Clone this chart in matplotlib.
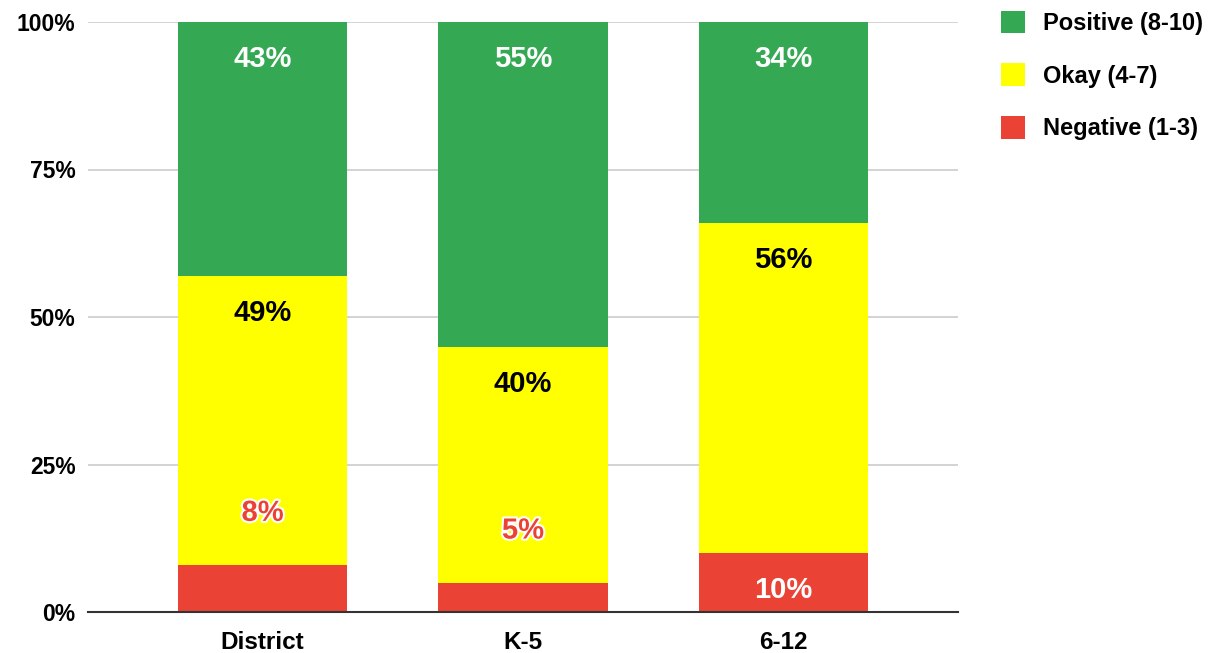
import numpy as np
import matplotlib.pyplot as plt
import matplotlib.patheffects as pe
from matplotlib.patches import Patch

plt.rcParams['font.family'] = ['Liberation Sans', 'DejaVu Sans']
plt.rcParams['font.weight'] = 'bold'

categories = ['District', 'K-5', '6-12']
negative = [8, 5, 10]
okay = [49, 40, 56]
positive = [43, 55, 34]
series_names = ['Negative (1-3)', 'Okay (4-7)', 'Positive (8-10)']
y_ticks = [0, 25, 50, 75, 100]

colors = ['#ea4335', '#ffff00', '#34a853']
label_colors = ['white', 'black', 'white']

fig = plt.figure(figsize=(12.18, 6.53), dpi=100)
ax = fig.add_axes([88 / 1218, 41 / 653, 870 / 1218, 590 / 653])

x = np.arange(len(categories))
bottom = np.zeros(len(categories))
series = [negative, okay, positive]

for vals, color, lc in zip(series, colors, label_colors):
    vals = np.array(vals, dtype=float)
    ax.bar(x, vals, bottom=bottom, width=0.65, color=color, zorder=2)
    for xi, b, v in zip(x, bottom, vals):
        top = b + v
        if v >= 10:
            ax.text(xi, top - 6.3, f'{int(v)}%', ha='center', va='center',
                    fontsize=21, fontweight='bold', color=lc, zorder=3)
        else:
            # small segment: label sits above the bar, red with a white halo
            ax.text(xi, top + 8.8, f'{int(v)}%', ha='center', va='center',
                    fontsize=21, fontweight='bold', color=color, zorder=3,
                    path_effects=[pe.withStroke(linewidth=3, foreground='white')])
    bottom += vals

ax.set_xlim(-0.67, 2.67)
ax.set_ylim(0, 100)
ax.set_xticks(x)
ax.set_xticklabels(categories, fontsize=17.5, fontweight='bold')
ax.set_yticks(y_ticks)
ax.set_yticklabels([f'{t}%' for t in y_ticks], fontsize=16.5, fontweight='bold')
ax.tick_params(axis='both', length=0)
ax.tick_params(axis='x', pad=14)
ax.tick_params(axis='y', pad=9)
ax.grid(axis='y', color='#cccccc', linewidth=1.2, zorder=0)
for s in ['top', 'right', 'left']:
    ax.spines[s].set_visible(False)
ax.spines['bottom'].set_color('#333333')
ax.spines['bottom'].set_linewidth(1.5)
ax.spines['bottom'].set_zorder(4)

handles = [Patch(facecolor=c, edgecolor='none') for c in colors[::-1]]
fig.legend(handles, series_names[::-1], loc='upper left',
           bbox_to_anchor=(984 / 1218, 1.0 + 6 / 653), frameon=False, borderaxespad=0.3,
           handlelength=1.05, handleheight=1.1,
           labelspacing=1.2, handletextpad=0.75, prop={'weight': 'bold', 'size': 17})

plt.savefig('out.png', dpi=100)
plt.close()
